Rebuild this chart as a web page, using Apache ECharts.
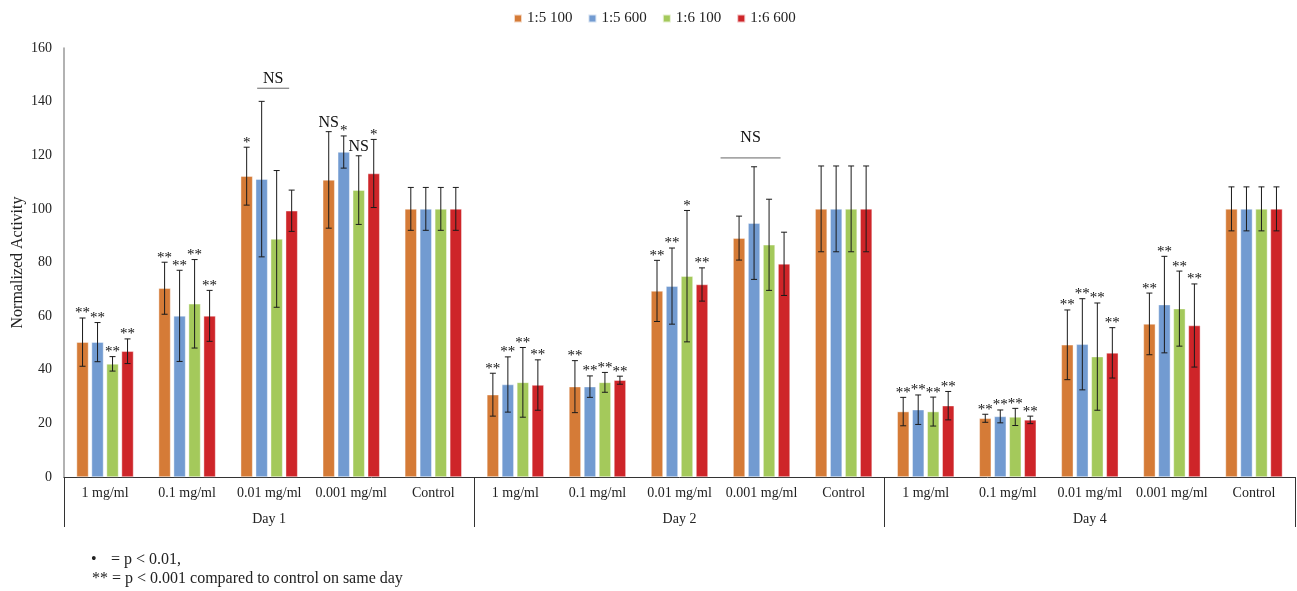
<!DOCTYPE html>
<html>
<head>
<meta charset="utf-8">
<script src="https://cdn.jsdelivr.net/npm/echarts@6/dist/echarts.min.js"></script>
<style>
  html, body { margin: 0; padding: 0; background: #fff; }
  #chart { width: 1297px; height: 591px; }
</style>
</head>
<body>
<div id="chart"></div>
<script>
// Groups: three days, five concentrations each
const days = ['Day 1', 'Day 2', 'Day 4'];
const concentrations = ['1 mg/ml', '0.1 mg/ml', '0.01 mg/ml', '0.001 mg/ml', 'Control'];
const seriesNames = ['1:5 100', '1:5 600', '1:6 100', '1:6 600'];
const colors = ['#D57B37', '#729BD1', '#A4C95B', '#CE2529'];
const yTicks = { min: 0, max: 160, interval: 20 };

// Mean normalized activity (Day 1 ×5, Day 2 ×5, Day 4 ×5)
const mean15_100 = [50.3, 70.4, 112.2, 110.8, 100, 30.7, 33.7, 69.4, 89.1, 100, 24.4, 21.9, 49.3, 57.1, 100];
const mean15_600 = [50.3, 60.1, 111.1, 121.2, 100, 34.5, 33.7, 71.2, 94.7, 100, 25.1, 22.6, 49.5, 64.3, 100];
const mean16_100 = [42.2, 64.6, 88.8, 107.0, 100, 35.3, 35.3, 74.9, 86.6, 100, 24.4, 22.4, 44.9, 62.8, 100];
const mean16_600 = [46.9, 60.1, 99.3, 113.2, 100, 34.3, 36.1, 71.8, 79.5, 100, 26.6, 21.3, 46.3, 56.5, 100];

// Error (± half-range of the bars)
const err15_100 = [9.0, 9.7, 10.8, 18.0, 8, 8.0, 9.7, 11.4, 8.2, 16, 5.3, 1.5, 13.0, 11.5, 8.2];
const err15_600 = [7.3, 17.0, 29.0, 6.0, 8, 10.3, 4.0, 14.2, 21.0, 16, 5.5, 2.4, 17.0, 18.0, 8.2];
const err16_100 = [2.7, 16.5, 25.5, 12.8, 8, 13.0, 3.7, 24.5, 17.0, 16, 5.4, 3.2, 20.0, 14.0, 8.2];
const err16_600 = [4.6, 9.5, 7.7, 12.7, 8, 9.4, 1.5, 6.2, 11.8, 16, 5.3, 1.4, 9.4, 15.5, 8.2];

// Significance marks above each bar
const sig15_100 = ['**', '**', '*', 'NS', '', '**', '**', '**', '', '', '**', '**', '**', '**', ''];
const sig15_600 = ['**', '**', '', '*', '', '**', '**', '**', '', '', '**', '**', '**', '**', ''];
const sig16_100 = ['**', '**', '', 'NS', '', '**', '**', '*', '', '', '**', '**', '**', '**', ''];
const sig16_600 = ['**', '**', '', '*', '', '**', '**', '**', '', '', '**', '**', '**', '**', ''];

// "NS" brackets spanning a group: [category index, height]
const nsBrackets = [[2, 145], [8, 119]];

const means = [mean15_100, mean15_600, mean16_100, mean16_600];
const errs = [err15_100, err15_600, err16_100, err16_600];
const sigs = [sig15_100, sig15_600, sig16_100, sig16_600];

const SERIF = '"Liberation Serif", "Times New Roman", serif';
const BAR_W = 12, BAR_GAP = 3;

// unique keys for the category axis; the label shows only the concentration
const catKeys = [];
days.forEach(d => concentrations.forEach(c => catKeys.push(d + '|' + c)));

function barOffset(si) {
  const total = 4 * BAR_W + 3 * BAR_GAP;
  return -total / 2 + BAR_W / 2 + si * (BAR_W + BAR_GAP);
}

const barSeries = seriesNames.map((name, si) => ({
  name, type: 'bar', xAxisIndex: 0, yAxisIndex: 0,
  data: means[si], barWidth: BAR_W, barGap: (BAR_GAP / BAR_W * 100) + '%',
  itemStyle: { color: colors[si], borderColor: 'rgba(255,255,255,0.7)', borderWidth: 0.6 },
  z: 2
}));

const errSeries = seriesNames.map((name, si) => ({
  type: 'custom', xAxisIndex: 0, yAxisIndex: 0, z: 5, silent: true,
  data: means[si].map((m, i) => [i, m - errs[si][i], m + errs[si][i]]),
  encode: { x: 0, y: [1, 2] },
  renderItem(params, api) {
    const i = api.value(0);
    const lo = api.coord([i, api.value(1)]);
    const hi = api.coord([i, api.value(2)]);
    const x = lo[0] + barOffset(si);
    const cap = 3;
    const children = [
      { type: 'line', shape: { x1: x, y1: hi[1], x2: x, y2: lo[1] }, style: { stroke: '#1a1a1a', lineWidth: 1 } },
      { type: 'line', shape: { x1: x - cap, y1: hi[1], x2: x + cap, y2: hi[1] }, style: { stroke: '#1a1a1a', lineWidth: 1 } },
      { type: 'line', shape: { x1: x - cap, y1: lo[1], x2: x + cap, y2: lo[1] }, style: { stroke: '#1a1a1a', lineWidth: 1 } }
    ];
    const s = sigs[si][params.dataIndex];
    if (s) {
      const isNS = s === 'NS';
      children.push({
        type: 'text',
        style: {
          text: s, x: x, y: hi[1] + (isNS ? -1 : 3),
          align: 'center', verticalAlign: 'bottom',
          font: (isNS ? '16px ' : '15px ') + SERIF, fill: '#111'
        }
      });
    }
    return { type: 'group', children };
  }
}));

// horizontal extent of each bracket around its category centre, and gap to its label
const nsSpan = { 2: [-12, 20, 1], 8: [-41, 19, 12] };
const nsSeries = {
  type: 'custom', xAxisIndex: 0, yAxisIndex: 0, z: 6, silent: true,
  data: nsBrackets,
  encode: { x: 0, y: 1 },
  renderItem(params, api) {
    const p = api.coord([api.value(0), api.value(1)]);
    const sp = nsSpan[api.value(0)];
    const x1 = p[0] + sp[0], x2 = p[0] + sp[1];
    return {
      type: 'group',
      children: [
        { type: 'line', shape: { x1, y1: p[1], x2, y2: p[1] }, style: { stroke: '#666', lineWidth: 1 } },
        { type: 'text', style: { text: 'NS', x: (x1 + x2) / 2, y: p[1] - sp[2], align: 'center', verticalAlign: 'bottom', font: '16px ' + SERIF, fill: '#111' } }
      ]
    };
  }
};

const chart = echarts.init(document.getElementById('chart'), null, { renderer: 'canvas' });
chart.setOption({
  animation: false,
  backgroundColor: '#fff',
  color: colors,
  textStyle: { fontFamily: SERIF },
  legend: {
    data: seriesNames, top: 6, left: 508,
    itemWidth: 8, itemHeight: 8, itemGap: 15,
    icon: 'rect',
    textStyle: { fontFamily: SERIF, fontSize: 15, color: '#222' }
  },
  grid: { left: 64, right: 2, top: 48, bottom: 114, containLabel: false, outerBoundsMode: 'none' },
  xAxis: [
    {
      type: 'category', data: catKeys, position: 'bottom',
      axisLine: { show: true, lineStyle: { color: '#333', width: 1 } },
      axisTick: { show: false },
      axisLabel: {
        formatter: v => v.split('|')[1], interval: 0, margin: 9,
        fontFamily: SERIF, fontSize: 14, color: '#222'
      }
    },
    {
      type: 'category', data: days, position: 'bottom',
      axisLine: { show: false },
      axisTick: { show: true, length: 50, lineStyle: { color: '#333', width: 1 } },
      axisLabel: { interval: 0, margin: 35, fontFamily: SERIF, fontSize: 14, color: '#222' }
    }
  ],
  yAxis: {
    type: 'value', min: yTicks.min, max: yTicks.max, interval: yTicks.interval,
    name: 'Normalized Activity', nameLocation: 'middle', nameGap: 38, nameMoveOverlap: false,
    nameTextStyle: { fontFamily: SERIF, fontSize: 16, color: '#222' },
    axisLine: { show: true, lineStyle: { color: '#999', width: 1.5 } },
    axisTick: { show: false },
    splitLine: { show: false },
    axisLabel: { margin: 12, fontFamily: SERIF, fontSize: 14, color: '#222' }
  },
  graphic: [
    { type: 'text', left: 91, top: 552, style: { text: '•', font: '16px ' + SERIF, fill: '#222' } },
    { type: 'text', left: 111, top: 552, style: { text: '= p < 0.01,', font: '16px ' + SERIF, fill: '#222' } },
    { type: 'text', left: 92, top: 571, style: { text: '** = p < 0.001 compared to control on same day', font: '16px ' + SERIF, fill: '#222' } }
  ],
  series: [...barSeries, ...errSeries, nsSeries]
});
</script>
</body>
</html>
